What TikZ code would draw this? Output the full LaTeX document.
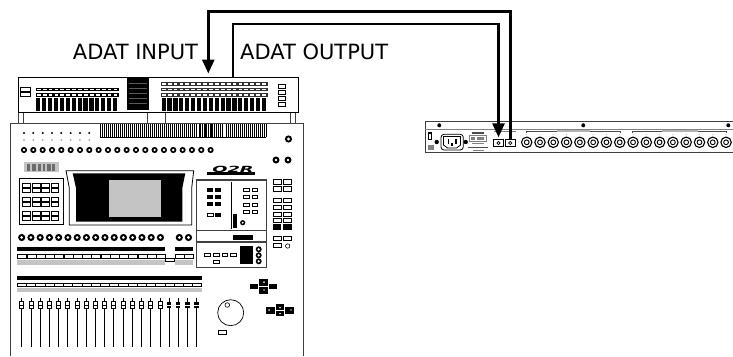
\documentclass[tikz,border=0pt]{standalone}
\usepackage{fontspec}
\usetikzlibrary{arrows.meta}
\setmainfont{DejaVu Sans}
\definecolor{gb}{HTML}{C4C4C4}
\definecolor{edge}{HTML}{404040}
\tikzset{
 px/.style={x=1pt,y=-1pt},
 label/.style={font=\fontsize{21}{21}\selectfont,inner sep=0pt,anchor=base west},
 wire/.style={line width=2.8pt,black,line join=miter},
 tip/.style={-{Triangle[length=14pt,width=12pt]}},
 box/.style={draw=black,line width=.5pt,fill=white},
 case/.style={draw=black,line width=.9pt,fill=white},
}
\newcommand{\knob}[3]{\fill[black] (#1,#2) circle (#3); \fill[white] (#1,#2) circle (#3*.42);}
\newcommand{\bx}[4]{\draw[box] (#1,#2) rectangle (#3,#4);}
\newcommand{\bk}[4]{\fill[black] (#1,#2) rectangle (#3,#4);}
\begin{document}
\begin{tikzpicture}[px]
\useasboundingbox (0,0) rectangle (733,356);
\fill[white] (0,0) rectangle (733,356);
% stands
\foreach \a in {18,23.5,147,165,290,295.5}{\draw[line width=.7pt,edge] (\a,111) -- (\a,123);}
% top meter bridge
\node[case,minimum width=280pt,minimum height=34.5pt,inner sep=0pt,anchor=north west] (bridge) at (17.5,77) {};
\foreach \y in {87.5,92.7}{\bx{20.5}{\y}{30}{\y+3.4}}
\foreach \y in {87.5,92.7}{\fill[black] (35.5,\y) rectangle (118.5,\y+3.8);
  \foreach \i in {0,...,13}{\fill[white] (36.8+\i*5.9,\y+1) rectangle (40.6+\i*5.9,\y+2.8);}}
\foreach \i in {0,...,13}{\bk{36.2+\i*5.9}{97.5}{40.4+\i*5.9}{110.5}}
\bk{127}{78}{149}{110}
\foreach \y in {83,88,93,98,103}{\draw[gray!70!black,line width=.35pt] (129,\y) -- (147,\y);}
\foreach \y in {82,87.5,92.7}{\fill[black!80] (160.5,\y) rectangle (267.5,\y+3.8);
  \foreach \i in {0,...,17}{\fill[white] (161.8+\i*5.9,\y+1) rectangle (165.6+\i*5.9,\y+2.8);}}
\foreach \i in {0,...,17}{\bk{161.5+\i*5.9}{97.5}{165.7+\i*5.9}{110.5}}
\foreach \y in {84,90,96,102}{\bx{278.5}{\y}{285.5}{\y+3.8}}
% console body
\fill[white] (10,123) rectangle (303,356);
\draw[line width=1pt,edge] (10,356) -- (10,123.5) -- (303,123.5) -- (303,356);
% vent
\foreach \i in {0,...,83}{\fill[black] (100+\i*2,124) rectangle (101+\i*2,137);}
\foreach \a in {127,139,151,198,224,243}{\fill[white] (\a,124) rectangle (\a+1,137);}
\foreach \a in {199,205,211}{\fill[black] (\a,124) rectangle (\a+1,137);}
\draw[black,line width=.5pt] (100,137) -- (266,137);
% small dots
\foreach \i in {0,...,7}{\fill[black] (24+\i*9.33,133) circle (1.1); \fill[gray!70] (24+\i*9.33,140) circle (1);}
\foreach \i in {0,...,20}{\knob{24+\i*9.33}{150}{3.1}}
\knob{288.5}{139}{3.6}\knob{276}{160}{3.5}\knob{288}{160}{3.5}
% blurred badge
\fill[gb] (24,162) rectangle (59,172);
\foreach \a/\w in {27/3,32/4,38/3,43/2,47/4,52/3}{\fill[gray!85!black] (\a,164) rectangle (\a+\w,171);}
% screen
\draw[case,line width=.8pt] (66,170.7) -- (193.7,170.7) -- (191.7,188) -- (191.7,225) -- (69.3,225) -- (69.3,188) -- cycle;
\fill[black] (72.7,173.3) -- (185.3,173.3) -- (182.3,188) -- (182.3,221.7) -- (76,221.7) -- (76,188) -- cycle;
\fill[gb] (109,180) rectangle (161,216.7);
% left buttons
\draw[line width=.7pt,black] (19,178.3) rectangle (63.7,224.3);
\foreach \y in {183.5,188.5,197.5,202.7,211.7,216.7}{\foreach \i in {0,...,3}{\bx{22.6+\i*9.4}{\y}{30.4+\i*9.4}{\y+3.3}}}
% logo
\fill[black] (207,172) rectangle (255,175);
\node[inner sep=0pt,xscale=2.1,font=\fontsize{8.5}{8.5}\selectfont\bfseries\itshape,anchor=base] (logo) at (233,172.3) {O2R};
% right panel
\draw[line width=.8pt,edge] (196.7,179.3) rectangle (266,267.7);
\draw[line width=1.4pt,edge] (196.7,179.8) -- (266,179.8);
\draw[line width=1.4pt,edge] (196.7,230.7) -- (266,230.7);
\draw[line width=1.2pt,edge] (196.7,242) -- (266,242);
\draw[line width=1.2pt,edge] (196.7,267.7) -- (266,267.7);
\draw[black,line width=.7pt] (231.7,182) -- (231.7,228.5);
\foreach \y in {187.7,195,202.3}{\bk{206.7}{\y}{213}{\y+4}\bk{214.5}{\y}{221}{\y+4}}
\bx{207}{213.5}{213}{216.7}\bk{214.5}{213.2}{221}{217}
\foreach \y in {188,195.5,203,210}{\bx{243.5}{\y}{249.7}{\y+3.2}\bx{252}{\y}{257.5}{\y+3.2}}
\bk{233.3}{214.3}{237}{227.7}\knob{242.7}{222.7}{2.6}
\bk{232.7}{235}{253.3}{240}
\foreach \a in {204.3,213.5,222,230.5}{\bx{\a}{253}{\a+5.6}{256}}
\bx{213.5}{260.3}{219.3}{263.5}
\bk{240}{246}{252.7}{264}
\foreach \y in {249.3,255.3,261.3}{\knob{258.7}{\y}{3}}
% right buttons
\foreach \y/\h in {179.5/4.6,186.3/4.6,198.4/4.2,205/4.2,211.8/4.6,218.4/4.2}{\bx{273}{\y}{281}{\y+\h}\bx{283.5}{\y}{291.5}{\y+\h}}
\bk{272.7}{224.3}{281.2}{230}\bk{283.3}{224.3}{291.7}{230}
\bx{273}{236}{281}{240}\bx{283.5}{236}{291.5}{240}
\bx{273}{243}{281}{247.5}
\draw[black,line width=.6pt] (287.7,246) circle (2.2);
% knobs row 2
\foreach \i in {0,...,15}{\knob{21.7+\i*9.25}{237.5}{3.6}}
\knob{179.3}{237.5}{3.6}\knob{188.5}{237.5}{3.6}
% strip A
\bk{17}{247}{164.5}{251}\bk{175}{247}{193}{251}
\foreach \i in {0,...,15}{\bx{17.5+\i*9.25}{254.5}{26.7+\i*9.25}{257.8}}
\foreach \i in {0,1}{\bx{175+\i*9.1}{254.5}{184.1+\i*9.1}{257.8}}
\fill[gb] (17,260) rectangle (164.5,265);\fill[gb] (175,260) rectangle (193,265);
\bx{165.3}{257.8}{174}{261}
% strip B
\bk{17}{276}{201.7}{280}
\foreach \i in {0,...,19}{\bx{17.3+\i*9.22}{282.8}{26.5+\i*9.22}{286}}
\fill[gb] (17,287.7) rectangle (201.7,292);
% faders
\foreach \i in {0,...,19}{\draw[black,line width=.7pt] (21.7+\i*9.21,297.7) -- (21.7+\i*9.21,346.7);}
\foreach \i in {0,...,15}{\draw[box,line width=.7pt] (19.7+\i*9.21,301.5) rectangle (23.7+\i*9.21,308);\draw[black,line width=.4pt] (19.7+\i*9.21,304.7) -- (23.7+\i*9.21,304.7);}
\foreach \i in {16,...,19}{\bk{19.5+\i*9.21}{301.5}{23.9+\i*9.21}{308}\draw[white,line width=.4pt] (19.5+\i*9.21,304.7) -- (23.9+\i*9.21,304.7);}
% nav 1
\bk{259.3}{278.7}{268.3}{286}\bk{259.3}{286.8}{268.3}{293.7}\bk{250}{283.7}{258.3}{289.3}\bk{269}{283.7}{277}{289.3}
\fill[white] (263,282.5) -- (265,282.5) -- (264,281) -- cycle;\fill[white] (263,289.5) -- (265,289.5) -- (264,291) -- cycle;
% nav 2
\bk{275.7}{304.3}{284.3}{310.2}\bk{275.7}{311}{284.3}{316.3}\bk{265.7}{306.7}{275}{313.7}\bk{285}{306.7}{294.3}{313.7}
\fill[white] (279,308) -- (281,308) -- (280,306.5) -- cycle;\fill[white] (279,313) -- (281,313) -- (280,314.5) -- cycle;
\fill[white] (269.5,309) -- (269.5,311) -- (268,310) -- cycle;\fill[white] (290.5,309) -- (290.5,311) -- (292,310) -- cycle;
% wheel
\draw[black,line width=.7pt] (230.7,312.7) circle (13);
\draw[black,line width=.6pt] (227.3,305) circle (2.3);
\bx{218.5}{330}{226.7}{334.7}
% rack
\draw[line width=.9pt,edge] (733,121.7) -- (425,121.7) -- (425,152.3) -- (733,152.3);
\draw[line width=.4pt,gray] (425,129.3) -- (733,129.3);
\foreach \a in {439.3,583.3,728.3}{\fill[black] (\a,125.3) circle (2);}
\bk{428.3}{132.3}{431.7}{140}
\fill[white] (429.3,133.5) rectangle (430.7,139);
\fill[gray] (428,145) rectangle (434,150);
\draw[black,line width=.8pt,rounded corners=3pt] (441,134.3) rectangle (463.3,150);
\draw[black,line width=.8pt] (443.5,136.5) -- (460.5,136.5) -- (460.5,145) -- (456.5,148) -- (447.5,148) -- (443.5,145) -- cycle;
\fill[black] (447.5,139) rectangle (449,144);\fill[black] (455,139) rectangle (456.5,144);\fill[black] (451.3,143) rectangle (452.8,146);
\fill[black] (436.7,142) circle (2.2);\fill[black] (465.7,142) circle (2.2);
\fill[black!70] (472,131.5) rectangle (484,133.5);
\draw[gray,line width=.9pt] (469,135.5) rectangle (486,141);
\fill[gray] (471,136.5) rectangle (475,140);\fill[gray] (477,136.5) rectangle (484,140);
\draw[gray,line width=.6pt] (472,143) -- (484,143);
\draw[black!70,line width=.8pt] (468,147) -- (488,147);
\draw[gray,line width=.8pt] (473,150.5) -- (484,150.5);
\draw[gray,line width=.6pt] (494,131) -- (516,131);
% optical ports
\node[box,line width=1pt,minimum width=9.5pt,minimum height=7.4pt,inner sep=0pt] (adatin) at (498.5,143) {};
\node[box,line width=1pt,minimum width=10.3pt,minimum height=7.4pt,inner sep=0pt] (adatout) at (510.3,143) {};
\draw[line width=.7pt,black] (adatin.center) circle (1.6);
\draw[line width=.7pt,black] (adatout.center) circle (1.6);
% xlr row
\foreach \i in {0,...,15}{\draw[black,line width=1.1pt] (526.7+\i*13.29,142.3) circle (5.2);\draw[black,line width=.9pt] (526.7+\i*13.29,142.3) circle (2.4);\fill[gray] (526.7+\i*13.29,134.3) circle (.4);}
\draw[black!70,line width=.5pt] (526.7,133) -- (526.7,130.8) -- (620,130.8) -- (620,133);
\draw[black!70,line width=.5pt] (632.7,133) -- (632.7,130.8) -- (726,130.8) -- (726,133);
\fill[gray!60] (557,130) rectangle (590,132);\fill[gray!60] (662,130) rectangle (698,132);
% connectors
\coordinate (outerBend) at (208.3,11.4);
\coordinate (innerBend) at (233,24);
\coordinate (bridgeIn) at (208.3,73.5);
\draw[wire,tip] (adatout.north) |- (outerBend) -- (bridgeIn);
\draw[wire,tip,shorten >=1.5pt] (bridge.north -| innerBend) -- (innerBend) -| (adatin.north);
% labels
\node[label] (inlabel) at (72.7,59) {ADAT INPUT};
\node[label] (outlabel) at (240,59) {ADAT OUTPUT};
\end{tikzpicture}
\end{document}
